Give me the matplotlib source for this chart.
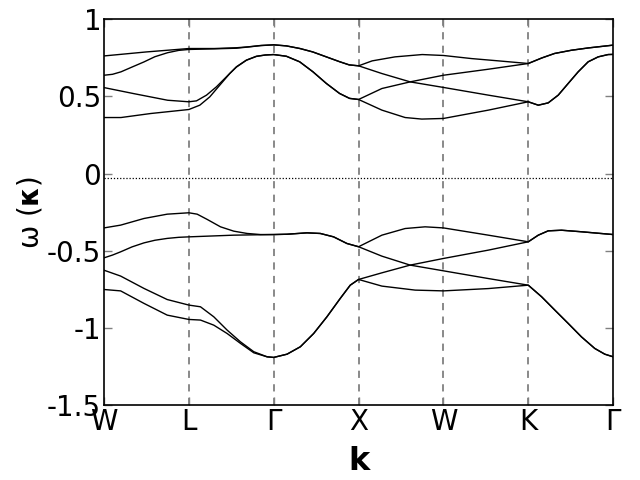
import matplotlib
matplotlib.use('Agg')
import matplotlib.pyplot as plt

# high symmetry points along the path
kticks = [0, 1, 2, 3, 4, 5, 6]
klabels = ['W', 'L', 'Γ', 'X', 'W', 'K', 'Γ']

# upper branch (4 bands)
k_u4 = [0, 0.5, 1, 1.3, 1.56, 1.7, 1.85, 2, 2.15, 2.31, 2.46, 2.62, 2.78, 2.89, 3,
        3.16, 3.43, 3.75, 4, 4.33, 4.65, 5, 5.16, 5.31, 5.51, 5.71, 6]
w_u4 = [0.762, 0.788, 0.81, 0.81, 0.815, 0.821, 0.83, 0.834, 0.827, 0.81, 0.788, 0.756, 0.724, 0.704, 0.698,
        0.730, 0.756, 0.771, 0.765, 0.745, 0.730, 0.713, 0.749, 0.778, 0.799, 0.814, 0.832]

k_u3 = [0, 0.1, 0.2, 0.33, 0.47, 0.6, 0.75, 0.88, 1, 1.3, 1.56, 1.7, 1.85, 2,
        2.15, 2.31, 2.46, 2.62, 2.78, 2.89, 3,
        3.275, 3.608, 4, 4.53, 5, 5.118, 5.235, 5.353, 5.471, 5.588, 5.706, 5.824, 5.941, 6]
w_u3 = [0.637, 0.643, 0.659, 0.69, 0.723, 0.757, 0.783, 0.798, 0.804, 0.808, 0.812, 0.82, 0.829, 0.834,
        0.827, 0.81, 0.788, 0.756, 0.724, 0.704, 0.698,
        0.648, 0.594, 0.558, 0.508, 0.465, 0.443, 0.458, 0.508, 0.584, 0.659, 0.724, 0.756, 0.771, 0.772]

k_u2 = [0, 0.35, 0.75, 1, 1.09, 1.208, 1.325, 1.443, 1.561, 1.678, 1.796, 1.9, 2,
        2.149, 2.306, 2.463, 2.62, 2.776, 2.894, 3,
        3.275, 3.608, 4, 4.53, 5, 5.16, 5.31, 5.51, 5.71, 6]
w_u2 = [0.557, 0.518, 0.475, 0.465, 0.471, 0.508, 0.562, 0.627, 0.692, 0.735, 0.760, 0.768, 0.771,
        0.760, 0.724, 0.659, 0.584, 0.519, 0.487, 0.480,
        0.551, 0.594, 0.637, 0.676, 0.713, 0.749, 0.778, 0.799, 0.814, 0.832]

k_u1 = [0, 0.2, 0.55, 1, 1.129, 1.247, 1.365, 1.482, 1.561, 1.678, 1.796, 1.9, 2,
        2.149, 2.306, 2.463, 2.62, 2.776, 2.894, 3,
        3.275, 3.549, 3.745, 4, 4.53, 5, 5.118, 5.235, 5.353, 5.471, 5.588, 5.706, 5.824, 5.941, 6]
w_u1 = [0.363, 0.363, 0.389, 0.415, 0.443, 0.497, 0.573, 0.648, 0.690, 0.734, 0.759, 0.768, 0.771,
        0.760, 0.724, 0.659, 0.584, 0.519, 0.487, 0.480,
        0.411, 0.363, 0.353, 0.357, 0.411, 0.465, 0.443, 0.458, 0.508, 0.584, 0.659, 0.724, 0.756, 0.771, 0.772]

# lower branch (4 bands)
k_l1 = [0, 0.196, 0.471, 0.745, 1, 1.098, 1.216, 1.373, 1.529, 1.686, 1.843, 2,
        2.157, 2.392, 2.549, 2.706, 2.863, 3,
        3.275, 3.549, 3.784, 4, 4.529, 5, 5.118, 5.235, 5.392, 5.627, 6]
w_l1 = [-0.352, -0.334, -0.291, -0.263, -0.254, -0.263, -0.297, -0.345, -0.373, -0.388, -0.395, -0.395,
        -0.393, -0.384, -0.388, -0.41, -0.453, -0.474,
        -0.399, -0.356, -0.345, -0.352, -0.399, -0.442, -0.399, -0.371, -0.367, -0.377, -0.395]

k_l2 = [0, 0.1, 0.196, 0.33, 0.471, 0.6, 0.745, 0.88, 1, 1.529, 2,
        2.157, 2.392, 2.549, 2.706, 2.863, 3,
        3.275, 3.608, 4, 4.529, 5, 5.157, 5.314, 5.471, 5.627, 5.784, 5.902, 6]
w_l2 = [-0.546, -0.528, -0.507, -0.475, -0.449, -0.432, -0.420, -0.413, -0.410, -0.399, -0.395,
        -0.393, -0.384, -0.388, -0.41, -0.453, -0.474,
        -0.535, -0.593, -0.630, -0.68, -0.723, -0.798, -0.885, -0.971, -1.058, -1.133, -1.17, -1.187]

k_l3 = [0, 0.196, 0.471, 0.745, 1, 1.137, 1.294, 1.451, 1.608, 1.765, 1.922, 2,
        2.157, 2.314, 2.471, 2.627, 2.784, 2.902, 3,
        3.275, 3.608, 4, 4.529, 5, 5.118, 5.235, 5.392, 5.627, 6]
w_l3 = [-0.626, -0.664, -0.744, -0.816, -0.852, -0.863, -0.928, -1.014, -1.09, -1.154, -1.187, -1.191,
        -1.17, -1.122, -1.036, -0.928, -0.809, -0.723, -0.686,
        -0.643, -0.593, -0.55, -0.496, -0.442, -0.399, -0.371, -0.367, -0.377, -0.395]

k_l4 = [0, 0.196, 0.471, 0.745, 1, 1.137, 1.294, 1.451, 1.608, 1.765, 1.922, 2,
        2.157, 2.314, 2.471, 2.627, 2.784, 2.902, 3,
        3.275, 3.667, 4, 4.529, 5, 5.157, 5.314, 5.471, 5.627, 5.784, 5.902, 6]
w_l4 = [-0.751, -0.76, -0.841, -0.917, -0.945, -0.949, -0.982, -1.036, -1.1, -1.161, -1.187, -1.191,
        -1.17, -1.122, -1.036, -0.928, -0.809, -0.723, -0.686,
        -0.729, -0.755, -0.76, -0.745, -0.723, -0.798, -0.885, -0.971, -1.058, -1.133, -1.17, -1.187]

zero_level = -0.03

plt.rcParams['font.family'] = 'DejaVu Sans'
plt.rcParams['mathtext.fontset'] = 'dejavusans'
fig = plt.figure(figsize=(6.4, 4.8), dpi=100)
ax = fig.add_axes([0.1625, 0.156, 0.7955, 0.804])

for x in kticks[1:-1]:
    ax.axvline(x, color='#808080', lw=1.3, ls=(0, (4, 3.5)), zorder=1)
ax.axhline(zero_level, color='black', lw=0.9, ls=(0, (1, 1.5)), zorder=1)

for k, w in [(k_u4, w_u4), (k_u3, w_u3), (k_u2, w_u2), (k_u1, w_u1),
             (k_l1, w_l1), (k_l2, w_l2), (k_l3, w_l3), (k_l4, w_l4)]:
    ax.plot(k, w, color='black', lw=1.0, zorder=2)

ax.set_xlim(0, 6)
ax.set_ylim(-1.5, 1)
ax.set_xticks(kticks)
ax.set_xticklabels(klabels)
ax.set_yticks([-1.5, -1, -0.5, 0, 0.5, 1])
ax.set_yticklabels(['-1.5', '-1', '-0.5', '0', '0.5', '1'])
ax.tick_params(direction='in', length=6, width=1, color='#808080',
               top=True, right=True, labelsize=20, pad=2)
for s in ax.spines.values():
    s.set_linewidth(1.2)

ax.set_xlabel('k', fontsize=23, fontweight='bold', labelpad=7)
ax.set_ylabel(r'ω ($\mathbf{\kappa}$)', fontsize=20, labelpad=2)

plt.savefig('out.png', dpi=100)
